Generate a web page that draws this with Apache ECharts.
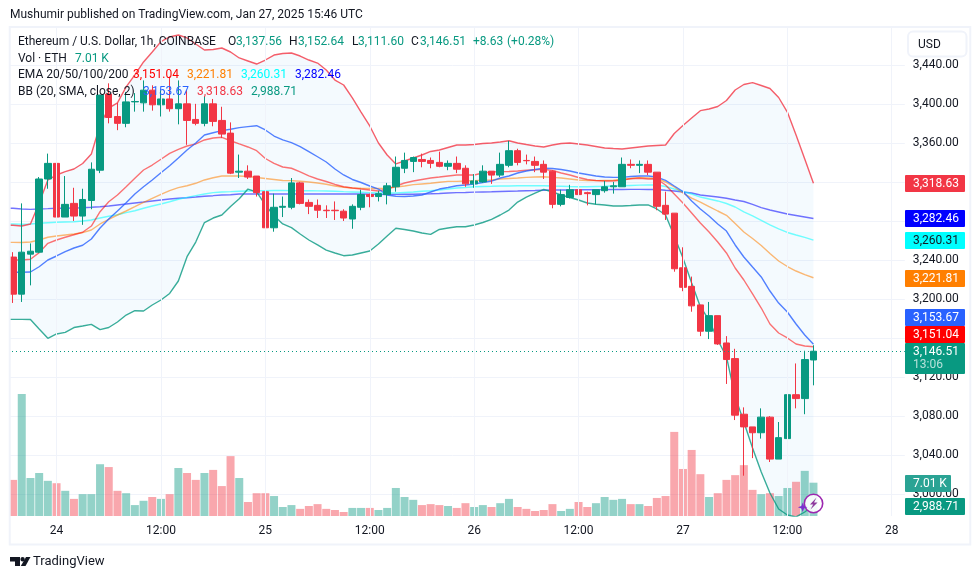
<!DOCTYPE html>
<html>
<head>
<meta charset="utf-8">
<title>ETHUSD 1h</title>
<script src="https://cdn.jsdelivr.net/npm/echarts@6/dist/echarts.min.js"></script>
<style>
  html, body { margin: 0; padding: 0; background: #fff; }
  #chart { width: 980px; height: 579px; }
</style>
</head>
<body>
<div id="chart"></div>
<script>
// OHLC, one entry per hourly candle
const opens = [3243,3205,3246,3248,3323,3339,3284,3298,3285,3301,3332,3410,3387,3380,3402,3401,3414,3399,3405,3395,3400,3384,3380,3400,3383,3370,3330,3331,3326,3310,3273,3294,3294,3319,3299,3296,3291,3291,3290,3282,3294,3307,3305,3307,3315,3334,3341,3343,3342,3340,3336,3339,3334,3318,3320,3331,3327,3337,3352,3342,3341,3338,3331,3297,3304,3312,3309,3307,3311,3315,3315,3338,3337,3338,3330,3296,3288,3232,3213,3194,3167,3183,3155,3139,3082,3069,3063,3079,3036,3057,3102,3098,3137.56]
const closes = [3205,3248,3249,3323,3339,3284,3297,3285,3302,3333,3409,3386,3380,3402,3402.4,3414,3399,3405,3395,3400,3383,3380,3400,3382,3369,3329,3331,3325,3309,3273,3294,3295,3319,3298,3295,3291,3290.5,3290.5,3283,3295,3307,3305,3308,3316,3335,3342,3345,3341,3339,3336,3339,3333,3318,3321,3331,3327,3338,3352,3340,3341.7,3337,3330,3297,3307,3312,3307,3308,3312,3315,3316,3338,3337,3338,3330,3295,3287,3231,3212,3193,3167,3183,3154,3138,3081,3069,3063,3079,3036,3058,3102,3098,3138,3146.51]
const lows = [3196,3197,3214,3247,3313,3284,3284,3280,3276,3292,3329,3380,3373,3376,3392,3392,3393,3387,3392,3379,3358,3378,3377,3377,3365,3328,3324,3323,3305,3271,3269,3284,3292,3297,3287,3283,3283,3281,3280,3272,3291,3294,3300,3297,3310,3329,3330,3335,3334,3335,3332,3329,3315,3314,3319,3318,3325,3335,3337,3338,3330,3323,3293,3295,3303,3291,3296,3297,3309,3308,3315,3334,3329,3327,3291,3281,3228,3208,3187,3162,3159,3153,3113,3076,3019,3037,3057,3033,3036,3052,3088,3082,3111.6]
const highs = [3248,3298,3257,3325,3349,3351,3326,3314,3313,3340,3409,3421,3401,3412,3411,3424,3419,3414,3428,3424,3414,3400,3408,3405,3397,3381,3348,3337,3326,3315,3308,3305,3324,3320,3302,3302,3296,3300,3292,3297,3312,3308,3311,3319,3346,3350,3346,3349,3345,3351,3342,3346,3337,3328,3337,3331,3350,3362,3354,3348,3346,3342,3332,3312,3317,3312,3310,3312,3321,3320,3345,3343,3342,3342,3330,3310,3288,3253,3223,3194,3197,3183,3162,3149,3089,3069,3088,3080,3074,3121,3134,3147,3152.64]
const volumes = [7.6,25.7,8,9.05,7.4,6.9,5.3,3.6,4.6,4.6,10.9,10.3,5.3,4.8,2.3,3.2,4,3.6,4.6,10.1,9.05,7.6,9.05,9.7,6.3,12.6,8,2.95,4.8,4.8,4.2,1.9,2.3,1.5,2.1,2.5,1.5,1.26,0.84,1.7,1.7,1.7,1.26,1.7,5.9,4,3.4,2.3,2.5,2.3,2.1,1.7,2.7,1.9,2.3,1.9,2.7,3.6,1.9,1.5,1.05,1.26,2.5,1.05,1.5,2.95,1.9,2.7,4,3.4,3.6,2.5,2.5,2.1,3.8,4.2,17.7,9.9,13.9,8.8,4,4.8,7.6,8.6,10.7,5.5,4.6,4.8,4.2,5.9,7.2,9.5,7.01]

// indicators start one bar earlier, the lines run in from off the left edge
const bbUpper = [3275.6,3275.6,3274.8,3276.9,3298.4,3322,3327.1,3330.5,3333.2,3338.9,3348.6,3378.3,3395.7,3400.9,3417.3,3429.6,3442.9,3453.1,3463.7,3468.5,3470.5,3467.5,3461.3,3455.2,3455.7,3457.2,3453.1,3447,3443.9,3440.8,3444.9,3450,3451.6,3452.1,3449,3444.9,3441.8,3434.7,3424.4,3419.3,3406,3391.6,3377.3,3359.9,3347.6,3338.4,3341.4,3344.5,3347.6,3351.2,3352.7,3355.3,3357.8,3357.8,3358.3,3359.4,3359.9,3360.9,3362.2,3359.9,3358.3,3356.8,3355.8,3357.8,3359.4,3359.9,3358.9,3357.8,3356.3,3354.8,3354.2,3353.7,3354.8,3355.8,3356.8,3357.3,3357.8,3369.6,3377.8,3385.5,3393,3394.7,3397.3,3403.4,3414.2,3419.8,3421.7,3418.8,3415.7,3406.5,3391.6,3368.1,3343.5,3318.63]
const bbBasis = [3227.4,3227.4,3227.4,3227.7,3233.1,3240,3244.1,3248.5,3252.3,3255.1,3261.5,3272.8,3282,3290.2,3298.7,3307.6,3315.1,3322,3329.4,3336.6,3344.5,3352.7,3359.9,3368.1,3370.4,3372.5,3373.9,3375.6,3376.6,3377.6,3373.2,3367,3363,3360.2,3356.1,3351,3345.8,3340.4,3333.2,3327.1,3322.5,3319.4,3315.8,3312.7,3306.6,3305.3,3305.1,3305.6,3306.6,3309.7,3312.7,3314.3,3316.1,3316.8,3317.9,3319.4,3320.9,3324,3326.1,3329.1,3331.2,3332.7,3334,3333.8,3332.7,3331.2,3329.1,3327.6,3326.1,3325,3324.7,3324.7,3325.6,3326.1,3326.1,3325,3321.5,3315.8,3310.2,3300.5,3292.3,3285.1,3276.9,3269.7,3255.4,3243.1,3232.8,3222.6,3208.2,3195.9,3186.7,3174.4,3163.2,3153.67]
const bbLower = [3179.2,3179.2,3179.2,3179,3169.3,3159.8,3164.2,3165.9,3170.8,3172.4,3174.1,3168.6,3170.8,3176.5,3183.6,3188,3187.7,3193.9,3199,3205.7,3218.5,3243.4,3258.4,3278.4,3283,3286.1,3294.8,3302.7,3312.7,3309.7,3296.4,3285.4,3276.9,3273.1,3266.6,3260.5,3255.4,3250.2,3247.2,3244.4,3245.1,3247.2,3249.2,3256.4,3264.6,3272.5,3271.3,3269.7,3267.7,3266.3,3271.3,3272.8,3274.1,3274.1,3275.9,3278.4,3281.7,3286.1,3291.2,3299.4,3304.5,3308.6,3312.4,3309.7,3306.6,3304,3301.5,3298.4,3297.1,3296.4,3295.3,3295.3,3295.8,3296.4,3296.4,3292.3,3286.1,3264.6,3242,3216.4,3192.2,3178.5,3158,3140.9,3100,3074,3047.4,3022.8,3001.3,2984.9,2978.7,2976.7,2981.8,2988.71]
const ema20 = [3240,3240,3240,3240.7,3247.5,3257.1,3260.5,3263.3,3265.9,3268.4,3274.8,3289.5,3299.7,3306.6,3315.1,3323.7,3332.2,3337.3,3343.2,3349.3,3353.4,3356.8,3358.9,3363,3365,3365.7,3362.2,3358.9,3355.8,3352,3344,3338.9,3335.3,3334,3330.2,3326.1,3323,3320.4,3317.4,3315.1,3313.8,3312.7,3311.7,3310.7,3312.7,3315.8,3318.9,3320.9,3322.5,3324,3325,3326.1,3327.1,3327.1,3327.1,3329.1,3330.2,3330.5,3330.7,3331.2,3331.9,3332.5,3332.9,3331.7,3329.1,3327.1,3324.5,3322.5,3321.5,3320.9,3320.9,3322,3323.3,3323.7,3323,3323,3316.8,3307.6,3298.4,3288.2,3277.9,3268.7,3258.4,3247.2,3231.8,3219.5,3205.2,3190.8,3174.4,3165.2,3160.1,3153.9,3151.9,3151.04]
const ema50 = [3258.1,3258.1,3257.9,3258.4,3260.5,3263.3,3264.6,3265.6,3266.6,3268,3270.7,3276.9,3281.7,3286.1,3290.2,3294.6,3299.1,3303.2,3307.3,3311,3314.1,3316.1,3318.6,3322,3324.3,3326.1,3326.1,3326.1,3325.6,3324.5,3323.5,3322.5,3321.5,3321.3,3320.7,3319.9,3318.9,3317.6,3315.8,3314.5,3313.8,3313.5,3313.3,3313.3,3313.5,3314.8,3315.8,3317.2,3317.9,3318.6,3319.6,3320.6,3320.6,3320.9,3321.3,3321.7,3322,3323,3323.5,3324,3324.7,3325,3325.3,3324.7,3324,3323,3322,3321.5,3321.3,3321.5,3321.7,3322.5,3323.5,3324.5,3324,3323.5,3319.9,3314.8,3308.6,3303.5,3299.4,3294.8,3290.2,3285.8,3277.4,3268.7,3262,3254.9,3246.7,3239,3233.3,3228.7,3225.1,3221.81]
const ema100 = [3276.9,3276.9,3276.6,3276.9,3277.6,3278.2,3278.6,3278.9,3279.2,3280,3281,3283,3284.8,3286.4,3288.5,3290.5,3293,3295.3,3297.4,3299.7,3302.2,3304.2,3305.9,3307.6,3309,3309.7,3310,3310.4,3310.7,3311,3311,3311.2,3311.2,3311.1,3311,3310.9,3310.8,3310.7,3310.4,3310,3309.7,3309.4,3309,3308.6,3308.6,3308.6,3309.2,3309.7,3310.4,3311,3311.7,3312.7,3313.8,3314.3,3315,3315.3,3315.5,3315.8,3315.8,3316,3316.1,3316.1,3316.1,3315.8,3315.6,3315.3,3315.1,3315.1,3315.3,3315.5,3315.8,3316.1,3316.4,3316.7,3316.8,3316.8,3315.3,3312.7,3310.2,3307.6,3304.5,3302.5,3300.5,3297.9,3294.3,3289.2,3285.1,3280.5,3275.9,3271.8,3268.2,3265.6,3263.1,3260.31]
const ema200 = [3293,3293,3292.3,3291.9,3292.3,3292.6,3293,3293,3293.3,3293.6,3294,3294.6,3295.3,3296.4,3297.4,3298.4,3299.4,3300.5,3301.5,3302.5,3303.2,3303.8,3304.5,3305.3,3305.9,3306.6,3306.9,3307.6,3307.6,3307.6,3307.6,3307.6,3307.6,3307.6,3307.6,3307.6,3307.6,3307.6,3307.6,3307.6,3307.6,3307.6,3307.4,3307.2,3307.1,3307.2,3307.3,3307.4,3307.6,3307.8,3308.1,3308.6,3309,3309.2,3309.5,3309.7,3309.9,3310.2,3310.5,3310.7,3311,3311.2,3311.5,3311.7,3311.7,3311.7,3311.9,3311.9,3312,3312.1,3312.2,3312.3,3312.4,3312.4,3312.3,3312.2,3311.4,3310.7,3309.7,3308.6,3306.6,3305.6,3304.5,3303.2,3301.5,3299.9,3296.9,3293.6,3291.2,3289.2,3287.1,3285.6,3284.1,3282.46]

const priceTicks = [3000,3040,3080,3120,3160,3200,3240,3280,3320,3360,3400,3440]
const xTickSlots = [6,18,30,42,54,66,78,90,102]
const xTickLabels = ['24','12:00','25','12:00','26','12:00','27','12:00','28']
const lastClose = 3146.51

const TEAL = '#089981'
const RED = '#F23645'
const TEXT = '#131722'
const GRID = '#F0F3FA'
const FONT = 'Roboto, "Noto Sans", sans-serif'
const FONT_SIZE = 12

const slotCount = 104
const categories = []
for (let s = 0; s < slotCount; s++) {
  const at = xTickSlots.indexOf(s)
  categories.push(at >= 0 ? xTickLabels[at] + '#' + s : '#' + s)
}

// the first slot holds no candle, only the indicator lead-in
const candleData = [['-', '-', '-', '-']].concat(opens.map((o, i) => [o, closes[i], lows[i], highs[i]]))
const volumeData = [null].concat(volumes.map((v, i) => ({
  value: v,
  itemStyle: { color: closes[i] >= opens[i] ? 'rgba(8,153,129,0.44)' : 'rgba(242,54,69,0.44)' }
})))

function indicator(name, data, color, opacity) {
  return {
    name,
    type: 'line',
    data,
    z: 2,
    showSymbol: false,
    silent: true,
    lineStyle: { color, width: 1.4, opacity }
  }
}

// price tags stacked on the right axis, spread out as TradingView does
const tags = [
  { text: '3,318.63', top: 175, bg: RED, fg: '#fff' },
  { text: '3,282.46', top: 210, bg: '#0000FF', fg: '#fff' },
  { text: '3,260.31', top: 232, bg: '#00FFFF', fg: TEXT },
  { text: '3,221.81', top: 270, bg: '#FF7F00', fg: '#fff' },
  { text: '3,153.67', top: 309, bg: '#2962FF', fg: '#fff' },
  { text: '3,151.04', top: 326, bg: '#FF0000', fg: '#fff' },
  { text: '2,988.71', top: 498, bg: TEAL, fg: '#fff' }
]

const legendPieces = [
  ['Ethereum / U.S. Dollar, 1h, COINBASE', 18, 42, TEXT],
  ['O', 228, 42, TEXT], ['3,137.56', 236, 42, TEAL],
  ['H', 289, 42, TEXT], ['3,152.64', 298, 42, TEAL],
  ['L', 352, 42, TEXT], ['3,111.60', 358, 42, TEAL],
  ['C', 411, 42, TEXT], ['3,146.51', 420, 42, TEAL],
  ['+8.63', 473, 42, TEAL], ['(+0.28%)', 507, 42, TEAL],
  ['Vol · ETH', 18, 59, TEXT], ['7.01 K', 75, 59, TEAL],
  ['EMA 20/50/100/200', 18, 75, TEXT],
  ['3,151.04', 133, 75, '#FF0000'], ['3,221.81', 187, 75, '#FF7F00'],
  ['3,260.31', 241, 75, '#00FFFF'], ['3,282.46', 295, 75, '#0000FF'],
  ['BB (20, SMA, close, 2)', 18, 92, TEXT],
  ['3,153.67', 143, 92, '#2962FF'], ['3,318.63', 197, 92, RED], ['2,988.71', 251, 92, TEAL]
]

function textEl(text, x, y, fill, size, opacity) {
  return {
    type: 'text', x, y, z: 110, silent: true,
    style: { text, fill, font: (size || FONT_SIZE) + 'px ' + FONT, textVerticalAlign: 'middle', opacity: opacity || 1 }
  }
}

function boxEl(x, y, width, height, fill, z) {
  return {
    type: 'rect', z: z || 105, silent: true,
    shape: { x, y, width, height, r: 1 },
    style: { fill }
  }
}

const graphics = [
  // hide what runs left of the panel, then the panel frame
  boxEl(0, 0, 9, 579, '#fff', 100),
  {
    type: 'rect', z: 101, silent: true,
    shape: { x: 9.7, y: 27, width: 960.6, height: 517.5 },
    style: { fill: 'transparent', stroke: GRID, lineWidth: 2 }
  },
  textEl('Mushumir published on TradingView.com, Jan 27, 2025 15:46 UTC', 10, 14.5, TEXT),
  {
    type: 'rect', z: 105, silent: true,
    shape: { x: 908, y: 31.5, width: 58.5, height: 25, r: 5 },
    style: { fill: '#fff', stroke: GRID, lineWidth: 2 }
  },
  textEl('USD', 918, 44.5, TEXT)
]
legendPieces.forEach(p => graphics.push(textEl(p[0], p[1], p[2], p[3])))
tags.forEach(t => {
  graphics.push(boxEl(905, t.top, 60, 17, t.bg))
  graphics.push(textEl(t.text, 913, t.top + 8.5, t.fg))
})
graphics.push(boxEl(905, 343, 60, 31, TEAL))
graphics.push(textEl('3,146.51', 913, 351.5, '#fff'))
graphics.push(textEl('13:06', 913, 365, '#fff', FONT_SIZE, 0.7))
graphics.push(boxEl(905, 475, 46, 17, '#2AA394'))
graphics.push(textEl('7.01 K', 913, 483.5, '#fff'))

// assistant badge sitting on the last volume bar
graphics.push({
  type: 'circle', z: 106, silent: true,
  shape: { cx: 813.5, cy: 503.5, r: 9.2 },
  style: { fill: 'rgba(255,255,255,0.9)', stroke: '#9C27B0', lineWidth: 1.6 }
})
graphics.push({
  type: 'polygon', z: 107, silent: true,
  shape: { points: [[816.5, 497.5], [810, 504.5], [813.2, 504.5], [810.5, 509.5], [817.5, 502.5], [814, 502.5]] },
  style: { fill: '#8E3B9E' }
})
graphics.push({
  type: 'polygon', z: 107, silent: true,
  shape: { points: [[802.7, 502.5], [804, 506], [807.5, 507.3], [804, 508.6], [802.7, 512], [801.4, 508.6], [797.9, 507.3], [801.4, 506]] },
  style: { fill: '#7B2FD0' }
})

// TradingView mark and wordmark
graphics.push({
  type: 'polygon', z: 107, silent: true,
  shape: { points: [[10, 557], [20, 557], [20, 566], [15, 566], [15, 561.5], [10, 561.5]] },
  style: { fill: TEXT }
})
graphics.push({
  type: 'circle', z: 107, silent: true,
  shape: { cx: 22.6, cy: 559.2, r: 2.2 },
  style: { fill: TEXT }
})
graphics.push({
  type: 'polygon', z: 107, silent: true,
  shape: { points: [[26, 557], [30.5, 557], [25.5, 566], [20.8, 566]] },
  style: { fill: TEXT }
})
graphics.push(textEl('TradingView', 33, 561.5, TEXT, 13))

const option = {
  animation: false,
  backgroundColor: '#fff',
  grid: { left: 0, top: 28, width: 904.8, height: 488, containLabel: false },
  xAxis: {
    type: 'category',
    data: categories,
    boundaryGap: true,
    axisLine: { show: false },
    axisTick: { show: false },
    splitLine: { show: false },
    axisLabel: {
      interval: 0,
      margin: 9,
      color: TEXT,
      fontFamily: FONT,
      fontSize: FONT_SIZE,
      formatter: value => value.split('#')[0]
    }
  },
  yAxis: [
    {
      type: 'value',
      position: 'right',
      min: 2977.7,
      max: 3477.7,
      axisLine: { show: false },
      axisTick: { show: false, customValues: priceTicks },
      splitLine: { show: true, lineStyle: { color: GRID, width: 1 } },
      axisLabel: {
        customValues: priceTicks,
        margin: 8,
        color: TEXT,
        fontFamily: FONT,
        fontSize: FONT_SIZE,
        formatter: value => value.toLocaleString('en-US', { minimumFractionDigits: 2, maximumFractionDigits: 2 })
      }
    },
    {
      type: 'value',
      min: 0,
      max: 102.7,
      show: false
    }
  ],
  graphic: { elements: graphics },
  series: [
    {
      name: 'band base',
      type: 'line',
      data: bbLower,
      stack: 'band',
      z: 1,
      showSymbol: false,
      silent: true,
      lineStyle: { opacity: 0, width: 0 }
    },
    {
      name: 'band',
      type: 'line',
      data: bbUpper.map((v, i) => v - bbLower[i]),
      stack: 'band',
      z: 1,
      showSymbol: false,
      silent: true,
      lineStyle: { opacity: 0, width: 0 },
      areaStyle: { color: 'rgba(33,150,243,0.05)', opacity: 1 },
      markLine: {
        silent: true,
        symbol: 'none',
        label: { show: false },
        lineStyle: { color: GRID, width: 1, type: 'solid' },
        data: xTickSlots.map(s => ({ xAxis: s }))
      }
    },
    {
      name: 'Vol',
      type: 'bar',
      yAxisIndex: 1,
      data: volumeData,
      barWidth: 8,
      z: 1.5,
      silent: true
    },
    indicator('EMA 200', ema200, '#0000FF', 0.55),
    indicator('EMA 100', ema100, '#00FFFF', 0.55),
    indicator('EMA 50', ema50, '#FF7F00', 0.55),
    indicator('EMA 20', ema20, '#FF0000', 0.55),
    indicator('BB lower', bbLower, TEAL, 0.8),
    indicator('BB basis', bbBasis, '#2962FF', 0.8),
    indicator('BB upper', bbUpper, RED, 0.8),
    {
      name: 'ETHUSD',
      type: 'candlestick',
      data: candleData,
      barWidth: 7,
      z: 3,
      silent: true,
      itemStyle: {
        color: TEAL,
        color0: RED,
        borderColor: TEAL,
        borderColor0: RED,
        borderColorDoji: TEAL,
        borderWidth: 1
      },
      markLine: {
        silent: true,
        symbol: 'none',
        label: { show: false },
        lineStyle: { color: TEAL, width: 1, type: [1, 3] },
        data: [{ yAxis: lastClose }]
      }
    }
  ]
}

const chart = echarts.init(document.getElementById('chart'), null, { renderer: 'canvas' })
chart.setOption(option)
</script>
</body>
</html>
